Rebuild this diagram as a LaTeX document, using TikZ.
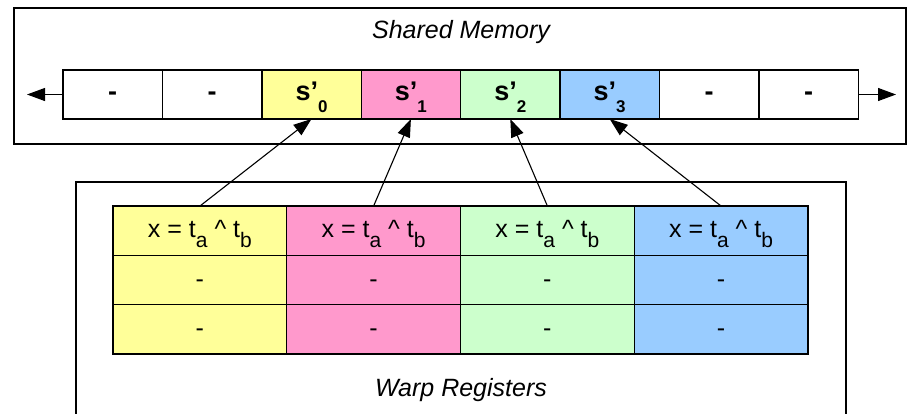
\documentclass[tikz,border=0pt]{standalone}
\usepackage{fontspec}
\setmainfont{Liberation Sans}
\usetikzlibrary{arrows.meta}

\definecolor{cyellow}{HTML}{FFFF99}
\definecolor{cpink}{HTML}{FF99CC}
\definecolor{cgreen}{HTML}{CCFFCC}
\definecolor{cblue}{HTML}{99CCFF}

\tikzset{
  memcell/.style = {draw, line width = 1.4pt, minimum width = 99.4pt, minimum height = 49pt,
                    inner sep = 0pt, outer sep = 0pt, text height = 20pt, text depth = 9pt,
                    font = \fontsize{27}{30}\selectfont\bfseries},
  regcell/.style = {draw, line width = 1.4pt, minimum width = 173.75pt, minimum height = 49.3pt,
                    inner sep = 0pt, outer sep = 0pt, text height = 18pt, text depth = 4pt,
                    font = \fontsize{25}{28}\selectfont},
  arr/.style = {line width = 1.1pt, -{Triangle[length = 18pt, width = 13pt]}},
  title/.style = {font = \fontsize{25}{28}\selectfont\itshape}
}

\newcommand{\regsub}[1]{\raisebox{-10pt}{\fontsize{21}{24}\selectfont #1}}
\newcommand{\memsub}[1]{\raisebox{-12pt}{\fontsize{17}{20}\selectfont #1}}
\newcommand{\xab}{x = t\regsub{a} \^{} t\regsub{b}}

\begin{document}
\begin{tikzpicture}[x = 1pt, y = -1pt]
    \useasboundingbox (0, 0) rectangle (908, 413);
    \clip (0, 0) rectangle (908, 413);
    % shared memory
    \draw[line width = 1.3pt] (14, 8) rectangle (906, 144);
    \node[title] (smem) at (461, 32) {Shared Memory};
    \node[memcell] (m0) at (112.7, 94.5) {-};
    \node[memcell] (m1) at (212.1, 94.5) {-};
    \node[memcell, fill = cyellow] (m2) at (311.5, 94.5) {s’\memsub{0}};
    \node[memcell, fill = cpink] (m3) at (410.9, 94.5) {s’\memsub{1}};
    \node[memcell, fill = cgreen] (m4) at (510.3, 94.5) {s’\memsub{2}};
    \node[memcell, fill = cblue] (m5) at (609.7, 94.5) {s’\memsub{3}};
    \node[memcell] (m6) at (709.1, 94.5) {-};
    \node[memcell] (m7) at (808.5, 94.5) {-};
    \coordinate (lend) at (27, 94.5);
    \coordinate (rend) at (896, 94.5);
    \draw[arr] (m0.west) -- (lend);
    \draw[arr] (m7.east) -- (rend);
    % warp registers
    \draw[line width = 1.3pt] (76, 430) -- (76, 182) -- (846, 182) -- (846, 430);
    \node[title] (wreg) at (461, 390) {Warp Registers};
    \node[regcell, fill = cyellow] (r0) at (199.9, 230.7) {\xab};
    \node[regcell, fill = cyellow] (r0b) at (199.9, 280) {-};
    \node[regcell, fill = cyellow] (r0c) at (199.9, 329.3) {-};
    \node[regcell, fill = cpink] (r1) at (373.6, 230.7) {\xab};
    \node[regcell, fill = cpink] (r1b) at (373.6, 280) {-};
    \node[regcell, fill = cpink] (r1c) at (373.6, 329.3) {-};
    \node[regcell, fill = cgreen] (r2) at (547.4, 230.7) {\xab};
    \node[regcell, fill = cgreen] (r2b) at (547.4, 280) {-};
    \node[regcell, fill = cgreen] (r2c) at (547.4, 329.3) {-};
    \node[regcell, fill = cblue] (r3) at (721.1, 230.7) {\xab};
    \node[regcell, fill = cblue] (r3b) at (721.1, 280) {-};
    \node[regcell, fill = cblue] (r3c) at (721.1, 329.3) {-};
    % stores
    \draw[arr] (r0.north) -- (m2.south);
    \draw[arr] (r1.north) -- (m3.south);
    \draw[arr] (r2.north) -- (m4.south);
    \draw[arr] (r3.north) -- (m5.south);
\end{tikzpicture}
\end{document}
